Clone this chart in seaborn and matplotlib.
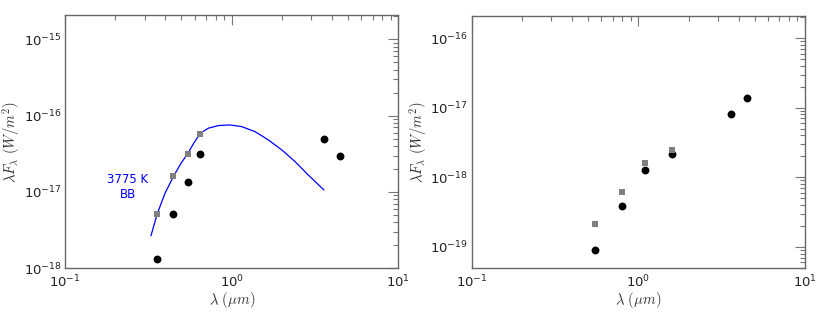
import numpy as np
import pandas as pd
import seaborn as sns
import matplotlib
matplotlib.use('Agg')
import matplotlib.pyplot as plt
from matplotlib.ticker import LogLocator, NullFormatter

# Left panel: photometry (um, W/m^2)
left_wave_sq = [0.358, 0.447, 0.547, 0.646]
left_flux_sq = [5.2e-18, 1.62e-17, 3.15e-17, 5.8e-17]
left_wave_pt = [0.358, 0.447, 0.547, 0.646, 3.56, 4.47]
left_flux_pt = [1.34e-18, 5.1e-18, 1.34e-17, 3.18e-17, 5.0e-17, 2.99e-17]

# 3775 K blackbody curve
bb_wave = [0.328, 0.358, 0.398, 0.449, 0.497, 0.545, 0.597, 0.649, 0.724,
           0.832, 0.977, 1.148, 1.38, 1.66, 2.0, 2.40, 2.88, 3.58]
bb_flux = [2.67e-18, 5.2e-18, 9.6e-18, 1.62e-17, 2.38e-17, 3.18e-17, 4.48e-17,
           5.88e-17, 6.84e-17, 7.4e-17, 7.55e-17, 7.18e-17, 6.17e-17, 4.81e-17,
           3.55e-17, 2.5e-17, 1.67e-17, 1.06e-17]

# Right panel
right_wave_sq = [0.547, 0.794, 1.09, 1.585]
right_flux_sq = [2.16e-19, 6.15e-19, 1.6e-18, 2.5e-18]
right_wave_pt = [0.547, 0.794, 1.09, 1.585, 3.58, 4.47]
right_flux_pt = [9.1e-20, 3.87e-19, 1.26e-18, 2.13e-18, 8.2e-18, 1.39e-17]

sns.set_style('white')
plt.rcParams.update({
    'font.family': ['DejaVu Sans'],
    'xtick.direction': 'in', 'ytick.direction': 'in',
    'xtick.top': True, 'ytick.right': True,
    'xtick.major.size': 7, 'ytick.major.size': 7,
    'xtick.minor.size': 3.5, 'ytick.minor.size': 3.5,
    'xtick.minor.visible': True, 'ytick.minor.visible': True,
    'xtick.color': '#777777', 'ytick.color': '#777777',
    'xtick.labelcolor': '#222222', 'ytick.labelcolor': '#222222',
    'xtick.labelsize': 9.5, 'ytick.labelsize': 9.5,
    'axes.edgecolor': '#666666', 'axes.linewidth': 1.0,
})

fig = plt.figure(figsize=(8.3, 3.13), dpi=100)
ax1 = fig.add_axes([0.0783, 0.1428, 0.4016, 0.8093])
ax2 = fig.add_axes([0.5683, 0.1447, 0.4016, 0.804])

bb = pd.DataFrame({'wave': bb_wave, 'flux': bb_flux})
sns.lineplot(data=bb, x='wave', y='flux', ax=ax1, color='blue', linewidth=0.9,
             sort=False, estimator=None)

for ax, wp, fp, ws, fs in [(ax1, left_wave_pt, left_flux_pt, left_wave_sq, left_flux_sq),
                           (ax2, right_wave_pt, right_flux_pt, right_wave_sq, right_flux_sq)]:
    sns.scatterplot(x=wp, y=fp, ax=ax, color='black', marker='o', s=32,
                    edgecolor='black', linewidth=0, zorder=3)
    sns.scatterplot(x=ws, y=fs, ax=ax, color='#808080', marker='s', s=16,
                    edgecolor='#808080', linewidth=0, zorder=4)

ax1.text(0.239, 1.15e-17, '3775 K\nBB', color='blue', fontsize=8.5,
         ha='center', va='center', linespacing=1.2)

ax1.set_ylim(1e-18, 2.08e-15)
ax2.set_ylim(5e-20, 2.08e-16)
for ax in (ax1, ax2):
    ax.set_xscale('log')
    ax.set_yscale('log')
    ax.set_xlim(0.1, 10)
    ax.xaxis.set_minor_locator(LogLocator(base=10, subs=np.arange(2, 10)))
    ax.yaxis.set_minor_locator(LogLocator(base=10, subs=np.arange(2, 10)))
    ax.xaxis.set_minor_formatter(NullFormatter())
    ax.yaxis.set_minor_formatter(NullFormatter())
    ax.tick_params(which='both', width=0.8)
    ax.tick_params(axis='y', which='major', pad=2.5)
    ax.tick_params(axis='x', which='major', pad=4)
    ax.set_xlabel(r'$\lambda\ (\mu m)$', fontsize=10.5, math_fontfamily='cm',
                  color='#333333', labelpad=0)
    ax.set_ylabel(r'$\lambda F_\lambda\ (W/m^2)$', fontsize=10.5, math_fontfamily='cm',
                  color='#333333', labelpad=1)

fig.savefig('out.png', dpi=100)
